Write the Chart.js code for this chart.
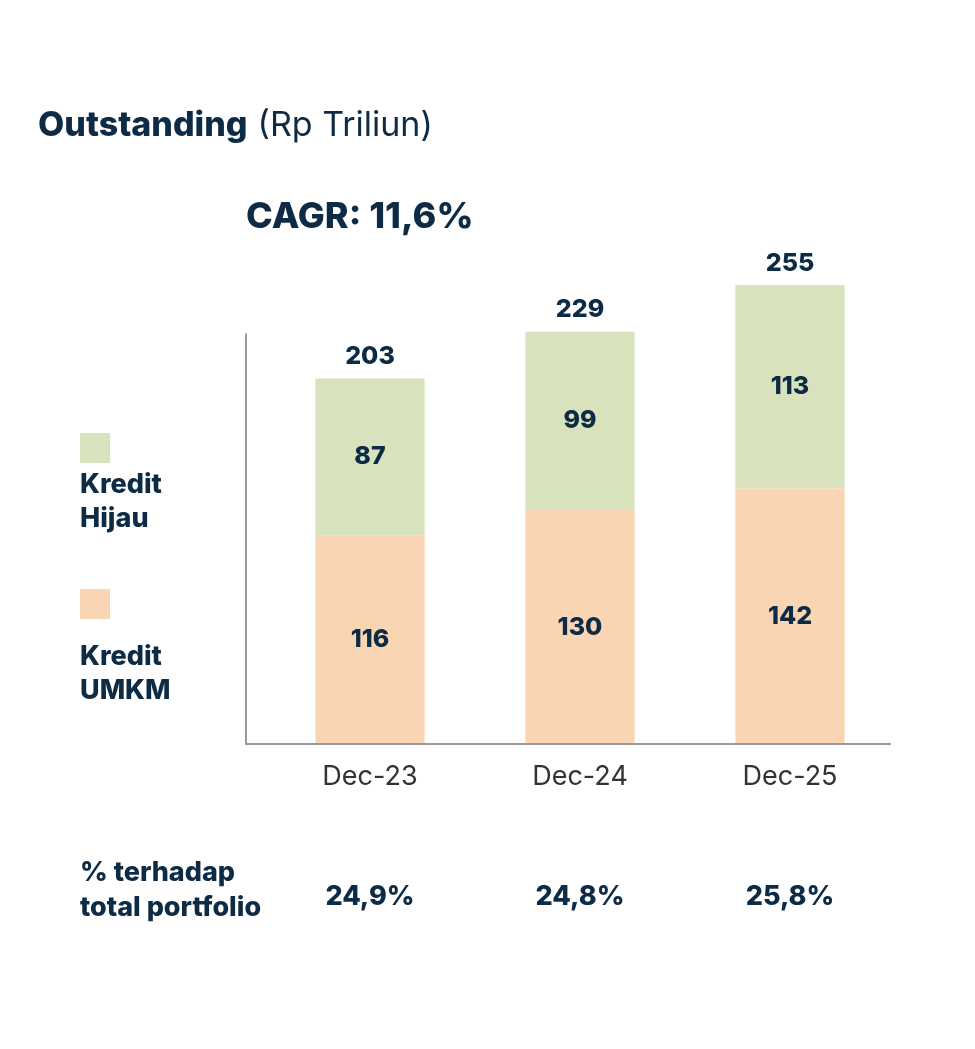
<!DOCTYPE html>
<html>
<head>
<meta charset="utf-8">
<script src="https://cdn.jsdelivr.net/npm/chart.js@4"></script>
<style>
  html, body { margin: 0; padding: 0; background: #fff; }
  #wrap { width: 975px; height: 1049px; position: relative; }
</style>
</head>
<body>
<div id="wrap"><canvas id="chart"></canvas></div>
<script>
// data
const categories = ['Dec-23', 'Dec-24', 'Dec-25'];
const kreditUmkm = [116, 130, 142];
const kreditHijau = [87, 99, 113];
const shareOfPortfolio = ['24,9%', '24,8%', '25,8%'];
const titleBold = 'Outstanding';
const titleRest = '(Rp Triliun)';
const cagrText = 'CAGR: 11,6%';
const shareLabel = ['% terhadap', 'total portfolio'];

const NAVY = '#0d2b45';
const AXIS = '#9a9a9a';
const FONT = 'Inter, "DejaVu Sans", sans-serif';

// teks judul, legenda, label bar dan baris persentase
const overlayPlugin = {
    id: 'overlay',
    afterDatasetsDraw(chart) {
        const ctx = chart.ctx;
        const area = chart.chartArea;
        const y = chart.scales.y;
        const axisLeft = area.left - 19;
        ctx.save();

        // garis sumbu (Y lebih pendek dari area chart)
        ctx.strokeStyle = AXIS;
        ctx.lineWidth = 2;
        ctx.beginPath();
        ctx.moveTo(axisLeft, y.getPixelForValue(228));
        ctx.lineTo(axisLeft, area.bottom);
        ctx.lineTo(area.right - 4, area.bottom);
        ctx.stroke();

        // judul
        ctx.fillStyle = NAVY;
        ctx.textBaseline = 'alphabetic';
        ctx.textAlign = 'left';
        ctx.font = `800 34px ${FONT}`;
        ctx.fillText(titleBold, 38, 136);
        const w = ctx.measureText(titleBold).width + 10;
        ctx.font = `400 34px ${FONT}`;
        ctx.fillText(titleRest, 38 + w, 136);

        ctx.font = `800 36px ${FONT}`;
        ctx.fillText(cagrText, axisLeft, 228);

        // label di dalam segmen dan total di atas bar
        ctx.textAlign = 'center';
        ctx.textBaseline = 'middle';
        ctx.font = `800 25px ${FONT}`;
        chart.data.datasets.forEach((ds, i) => {
            chart.getDatasetMeta(i).data.forEach((bar, j) => {
                const mid = (bar.y + bar.base) / 2;
                ctx.fillText(String(ds.data[j]), bar.x, mid);
            });
        });
        const topMeta = chart.getDatasetMeta(1);
        topMeta.data.forEach((bar, j) => {
            const total = kreditUmkm[j] + kreditHijau[j];
            ctx.fillText(String(total), bar.x, bar.y - 22);
        });

        // baris persentase terhadap total portfolio
        ctx.font = `800 27px ${FONT}`;
        topMeta.data.forEach((bar, j) => {
            ctx.fillText(shareOfPortfolio[j], bar.x, 897);
        });
        ctx.textAlign = 'left';
        ctx.fillText(shareLabel[0], 80, 873);
        ctx.fillText(shareLabel[1], 80, 908);

        // legenda manual (hijau di atas)
        ctx.font = `800 27px ${FONT}`;
        const legendTops = [433, 589];
        const textGap = [52, 68];
        [1, 0].forEach((dsIndex, k) => {
            const ds = chart.data.datasets[dsIndex];
            const top = legendTops[k];
            ctx.fillStyle = ds.backgroundColor;
            ctx.fillRect(80, top, 30, 30);
            ctx.fillStyle = NAVY;
            const words = ds.label.split(' ');
            words.forEach((word, n) => {
                ctx.fillText(word, 80, top + textGap[k] + n * 34);
            });
        });

        ctx.restore();
    }
};

const ctx = document.getElementById('chart').getContext('2d');
new Chart(ctx, {
    type: 'bar',
    data: {
        labels: categories,
        datasets: [
            {
                label: 'Kredit UMKM',
                data: kreditUmkm,
                backgroundColor: '#fad5b4',
                borderWidth: 0,
                barPercentage: 1,
                categoryPercentage: 0.52
            },
            {
                label: 'Kredit Hijau',
                data: kreditHijau,
                backgroundColor: '#d8e3bd',
                borderWidth: 0,
                barPercentage: 1,
                categoryPercentage: 0.52
            }
        ]
    },
    options: {
        responsive: true,
        maintainAspectRatio: false,
        animation: false,
        layout: {
            padding: { left: 265, right: 80, top: 276, bottom: 245 }
        },
        plugins: {
            legend: { display: false },
            tooltip: { enabled: false }
        },
        scales: {
            x: {
                stacked: true,
                grid: { display: false },
                border: { display: false },
                ticks: {
                    color: '#333333',
                    padding: 9,
                    font: { family: FONT, size: 27, weight: 400 }
                },
                afterFit(scale) { scale.height = 60; }
            },
            y: {
                stacked: true,
                display: false,
                min: 0,
                max: 260
            }
        }
    },
    plugins: [overlayPlugin]
});
</script>
</body>
</html>
